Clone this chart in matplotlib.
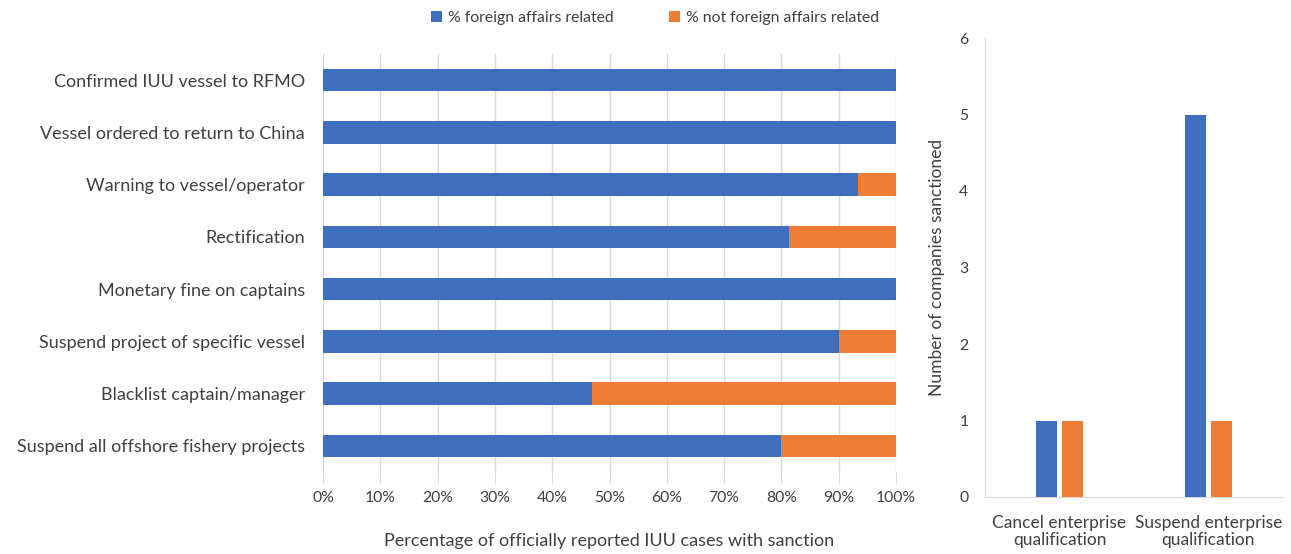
import numpy as np
import matplotlib
matplotlib.use("Agg")
import matplotlib.pyplot as plt
from matplotlib.ticker import PercentFormatter

plt.rcParams["font.family"] = ["Lato", "DejaVu Sans"]

# ── Data ──────────────────────────────────────────────────────────────────────
sanctions = [
    "Confirmed IUU vessel to RFMO",
    "Vessel ordered to return to China",
    "Warning to vessel/operator",
    "Rectification",
    "Monetary fine on captains",
    "Suspend project of specific vessel",
    "Blacklist captain/manager",
    "Suspend all offshore fishery projects",
]
pct_foreign = [100, 100, 93.3, 81.3, 100, 90, 47, 80]
pct_not_foreign = [100 - v for v in pct_foreign]

company_cats = ["Cancel enterprise\nqualification", "Suspend enterprise\nqualification"]
companies_foreign = [1, 5]
companies_not_foreign = [1, 1]

BLUE = "#3F6FBC"
ORANGE = "#EE7D35"
TXT = "#404040"
GRID = "#D9D9D9"

fig = plt.figure(figsize=(12.91, 5.54), dpi=100)

# ── Left: stacked horizontal bars ─────────────────────────────────────────────
ax = fig.add_axes([323 / 1291, 1 - 472 / 554, 573 / 1291, 418 / 554])
y = np.arange(len(sanctions))
ax.barh(y, pct_foreign, height=0.43, color=BLUE, label="% foreign affairs related", zorder=3)
ax.barh(y, pct_not_foreign, left=pct_foreign, height=0.43, color=ORANGE,
        label="% not foreign affairs related", zorder=3)
ax.set_ylim(len(sanctions) - 0.5, -0.5)
ax.set_xlim(0, 100)
ax.set_yticks(y)
ax.set_yticklabels(sanctions, fontsize=13, color=TXT)
ax.set_xticks(np.arange(0, 101, 10))
ax.xaxis.set_major_formatter(PercentFormatter(decimals=0))
ax.tick_params(axis="x", labelsize=11.3, colors=TXT, length=8, color=GRID, pad=6)
ax.tick_params(axis="y", length=0, pad=13)
ax.grid(axis="x", color=GRID, lw=1, zorder=0)
for s in ax.spines.values():
    s.set_visible(False)
ax.set_xlabel("Percentage of officially reported IUU cases with sanction",
              fontsize=13, color=TXT, labelpad=20)
fig.legend(loc="center", bbox_to_anchor=(655 / 1291, 1 - 18 / 554), ncol=2,
           frameon=False, fontsize=11.3, handlelength=0.7, handleheight=0.7,
           handletextpad=0.4, columnspacing=3.5, labelcolor=TXT)

# ── Right: grouped vertical bars ──────────────────────────────────────────────
ax2 = fig.add_axes([985 / 1291, 1 - 497 / 554, 298 / 1291, 459 / 554])
x = np.arange(len(company_cats))
w = 0.135
ax2.bar(x - w / 2 - 0.02, companies_foreign, width=w, color=BLUE, zorder=3)
ax2.bar(x + w / 2 + 0.02, companies_not_foreign, width=w, color=ORANGE, zorder=3)
ax2.set_xlim(-0.5, 1.5)
ax2.set_ylim(0, 6)
ax2.set_yticks(range(7))
ax2.set_xticks(x)
ax2.set_xticklabels(company_cats, fontsize=12.5, color=TXT, linespacing=1.05)
ax2.tick_params(axis="y", labelsize=11.3, colors=TXT, length=0, pad=12)
ax2.tick_params(axis="x", length=0, pad=13)
for s in ["top", "right"]:
    ax2.spines[s].set_visible(False)
for s in ["left", "bottom"]:
    ax2.spines[s].set_color(GRID)
ax2.set_ylabel("Number of companies sanctioned", fontsize=12.5, color=TXT, labelpad=10)

fig.savefig("out.png", dpi=100)
